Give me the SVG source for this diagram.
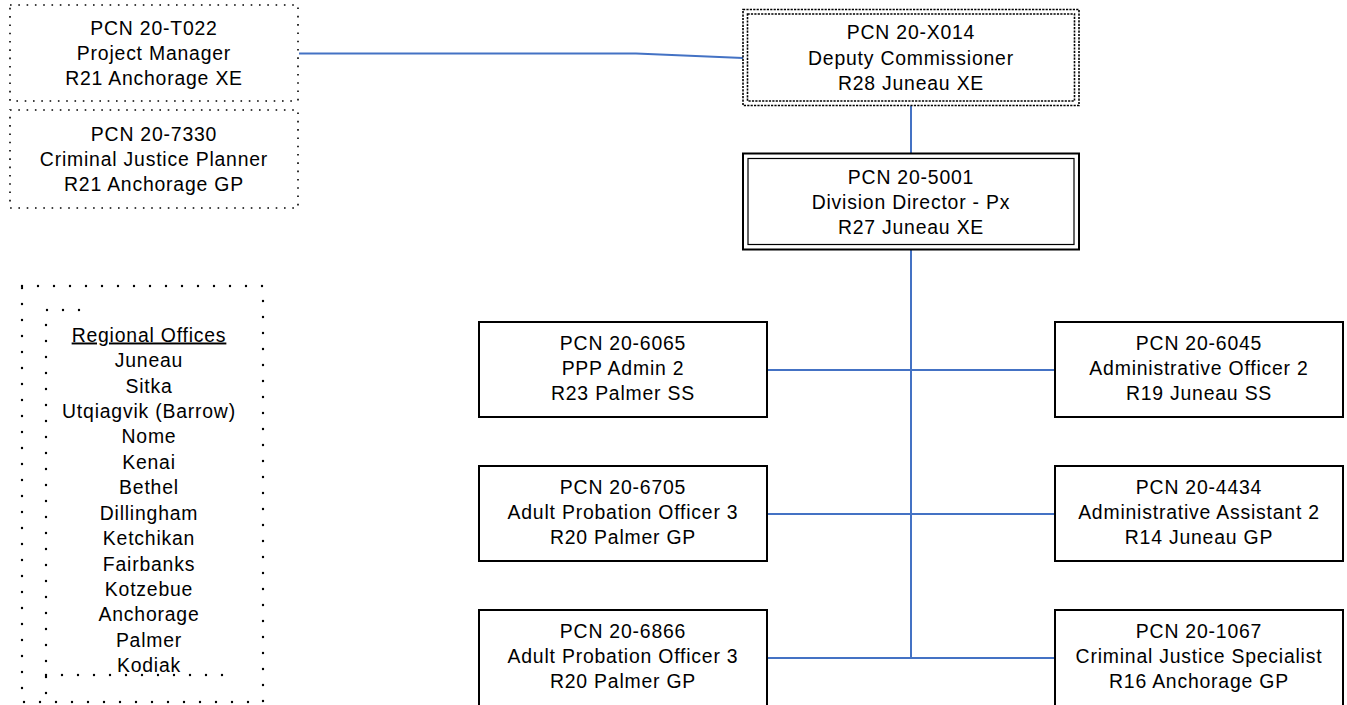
<svg xmlns="http://www.w3.org/2000/svg" width="1347" height="705" viewBox="0 0 1347 705">
<style>
text{font-family:"Liberation Sans",Arial,sans-serif;font-size:19.4px;letter-spacing:0.8px;fill:#000;text-anchor:middle}
.box{fill:#fff;stroke:#000;stroke-width:2}
.dot{fill:none;stroke:#000;stroke-width:1.6;stroke-dasharray:1.6 6.7}
.dash{fill:none;stroke:#000;stroke-width:1.6;stroke-dasharray:2.2 1.2}
.rdot{fill:none;stroke:#000;stroke-width:2.4;stroke-linecap:round;stroke-dasharray:0 16}
.conn{fill:none;stroke:#4472C4;stroke-width:2}
</style>
<rect width="1347" height="705" fill="#fff"/>
<g id="connectors">
<polyline class="conn" points="299,53.5 636,53.5 743,58"/>
<line class="conn" x1="911" y1="106" x2="911" y2="153"/>
<line class="conn" x1="911" y1="250" x2="911" y2="657"/>
<line class="conn" x1="767" y1="370" x2="1055" y2="370"/>
<line class="conn" x1="767" y1="514" x2="1055" y2="514"/>
<line class="conn" x1="767" y1="658" x2="1055" y2="658"/>
</g>
<g id="n-t022">
<rect class="dot" x="10" y="5" width="288" height="96"/>
<text x="154" y="35">PCN 20-T022</text>
<text x="154" y="60">Project Manager</text>
<text x="154" y="85">R21 Anchorage XE</text>
</g>
<g id="n-7330">
<rect class="dot" x="10" y="110" width="288" height="98"/>
<text x="154" y="141">PCN 20-7330</text>
<text x="154" y="166">Criminal Justice Planner</text>
<text x="154" y="191">R21 Anchorage GP</text>
</g>
<g id="n-x014">
<rect class="dash" x="743" y="9.5" width="336" height="96"/>
<rect class="dash" x="747.5" y="14" width="327" height="87"/>
<text x="911" y="39">PCN 20-X014</text>
<text x="911" y="64.5">Deputy Commissioner</text>
<text x="911" y="90">R28 Juneau XE</text>
</g>
<g id="n-5001">
<rect x="743" y="153.5" width="336" height="96" fill="#fff" stroke="#000" stroke-width="2"/>
<rect x="748" y="158.5" width="326" height="86" fill="none" stroke="#000" stroke-width="1.2"/>
<text x="911" y="183.5">PCN 20-5001</text>
<text x="911" y="208.5">Division Director - Px</text>
<text x="911" y="233.5">R27 Juneau XE</text>
</g>
<g id="n-6065">
<rect class="box" x="479" y="322" width="288" height="95"/>
<text x="623" y="350">PCN 20-6065</text>
<text x="623" y="375">PPP Admin 2</text>
<text x="623" y="400">R23 Palmer SS</text>
</g>
<g id="n-6045">
<rect class="box" x="1055" y="322" width="288" height="95"/>
<text x="1199" y="350">PCN 20-6045</text>
<text x="1199" y="375">Administrative Officer 2</text>
<text x="1199" y="400">R19 Juneau SS</text>
</g>
<g id="n-6705">
<rect class="box" x="479" y="466" width="288" height="95"/>
<text x="623" y="494">PCN 20-6705</text>
<text x="623" y="519">Adult Probation Officer 3</text>
<text x="623" y="544">R20 Palmer GP</text>
</g>
<g id="n-4434">
<rect class="box" x="1055" y="466" width="288" height="95"/>
<text x="1199" y="494">PCN 20-4434</text>
<text x="1199" y="519">Administrative Assistant 2</text>
<text x="1199" y="544">R14 Juneau GP</text>
</g>
<g id="n-6866">
<rect class="box" x="479" y="610" width="288" height="110"/>
<text x="623" y="638">PCN 20-6866</text>
<text x="623" y="663">Adult Probation Officer 3</text>
<text x="623" y="688">R20 Palmer GP</text>
</g>
<g id="n-1067">
<rect class="box" x="1055" y="610" width="288" height="110"/>
<text x="1199" y="638">PCN 20-1067</text>
<text x="1199" y="663">Criminal Justice Specialist</text>
<text x="1199" y="688">R16 Anchorage GP</text>
</g>
<g id="regional-offices">
<rect class="rdot" x="22" y="286" width="241" height="416"/>
<path class="rdot" d="M79,310 H46 V702"/>
<path class="rdot" d="M46,675 H235"/>
<text x="149" y="341.5" text-decoration="underline">Regional Offices</text>
<text x="149" y="367">Juneau</text>
<text x="149" y="392.5">Sitka</text>
<text x="149" y="418">Utqiagvik (Barrow)</text>
<text x="149" y="443">Nome</text>
<text x="149" y="468.5">Kenai</text>
<text x="149" y="494">Bethel</text>
<text x="149" y="519.5">Dillingham</text>
<text x="149" y="545">Ketchikan</text>
<text x="149" y="570.5">Fairbanks</text>
<text x="149" y="596">Kotzebue</text>
<text x="149" y="621">Anchorage</text>
<text x="149" y="646.5">Palmer</text>
<text x="149" y="672">Kodiak</text>
</g>
</svg>
